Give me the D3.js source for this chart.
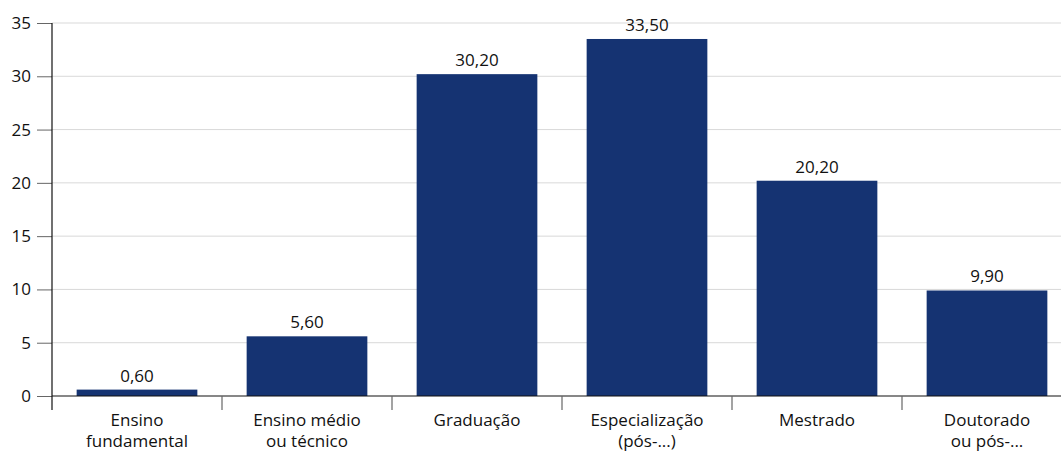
<!DOCTYPE html>
<html>
<head>
<meta charset="utf-8">
<script src="https://cdn.jsdelivr.net/npm/d3@7"></script>
<style>
  body { margin: 0; background: #fff; }
  svg { display: block; font-family: 'Open Sans', 'Noto Sans', sans-serif; }
</style>
</head>
<body>
<div id="chart"></div>
<script>
const categories = [
  ['Ensino', 'fundamental'],
  ['Ensino médio', 'ou técnico'],
  ['Graduação'],
  ['Especialização', '(pós-...)'],
  ['Mestrado'],
  ['Doutorado', 'ou pós-...']
];
const values = [0.6, 5.6, 30.2, 33.5, 20.2, 9.9];
const yTicks = [0, 5, 10, 15, 20, 25, 30, 35];

const width = 1061;
const height = 452;
const BAR_COLOR = '#153372';
const FONT_SIZE = '17px';
const fmt = (v) => v.toFixed(2).replace('.', ',');

const svg = d3.select('#chart')
  .append('svg')
    .attr('width', width)
    .attr('height', height);

const idx = d3.range(values.length);

// bands run past the right edge, as in the original
const xScale = d3.scaleBand()
  .domain(idx)
  .range([52, 1072])
  .paddingInner(0.29)
  .paddingOuter(0.145);

const yScale = d3.scaleLinear()
  .domain([0, 35])
  .range([396, 23]);

// gridlines
svg.append('g')
  .selectAll('line')
  .data(yTicks.filter((t) => t > 0))
  .enter().append('line')
    .attr('x1', 52)
    .attr('x2', width)
    .attr('y1', (d) => yScale(d))
    .attr('y2', (d) => yScale(d))
    .attr('stroke', '#d9d9d9')
    .attr('stroke-width', 1);

// y axis
const yAxis = svg.append('g')
  .attr('transform', 'translate(52,0)')
  .call(d3.axisLeft(yScale).tickValues(yTicks).tickSize(15).tickPadding(6));
yAxis.select('.domain').remove();
yAxis.selectAll('.tick line').attr('stroke', '#666');
yAxis.selectAll('.tick text')
  .attr('font-size', FONT_SIZE)
  .attr('fill', '#111')
  .attr('font-family', "'Open Sans', 'Noto Sans', sans-serif");

// bars
svg.append('g')
  .selectAll('rect')
  .data(values)
  .enter().append('rect')
    .attr('x', (d, i) => xScale(i))
    .attr('y', (d) => yScale(d))
    .attr('width', xScale.bandwidth())
    .attr('height', (d) => yScale(0) - yScale(d))
    .attr('fill', BAR_COLOR);

// value labels
svg.append('g')
  .selectAll('text')
  .data(values)
  .enter().append('text')
    .attr('x', (d, i) => xScale(i) + xScale.bandwidth() / 2)
    .attr('y', (d) => yScale(d) - 8)
    .attr('text-anchor', 'middle')
    .attr('font-size', FONT_SIZE)
    .attr('fill', '#111')
    .text((d) => fmt(d));

// x axis line, y axis line
svg.append('line')
  .attr('x1', 52).attr('x2', width)
  .attr('y1', yScale(0)).attr('y2', yScale(0))
  .attr('stroke', '#111').attr('stroke-width', 1.2);
svg.append('line')
  .attr('x1', 52).attr('x2', 52)
  .attr('y1', yScale(35)).attr('y2', yScale(0) + 14)
  .attr('stroke', '#111').attr('stroke-width', 1.2);

// category separators
const step = xScale.step();
svg.append('g')
  .selectAll('line')
  .data(idx.slice(1))
  .enter().append('line')
    .attr('x1', (i) => xScale(i) - step * 0.145)
    .attr('x2', (i) => xScale(i) - step * 0.145)
    .attr('y1', yScale(0))
    .attr('y2', yScale(0) + 14)
    .attr('stroke', '#666')
    .attr('stroke-width', 1.2);

// category labels, one text per line
const labels = svg.append('g')
  .selectAll('g')
  .data(categories)
  .enter().append('g')
    .attr('transform', (d, i) => `translate(${xScale(i) + xScale.bandwidth() / 2},426)`);
labels.selectAll('text')
  .data((d) => d)
  .enter().append('text')
    .attr('text-anchor', 'middle')
    .attr('font-size', FONT_SIZE)
    .attr('fill', '#111')
    .attr('y', (d, j) => j * 21)
    .text((d) => d);
</script>
</body>
</html>
